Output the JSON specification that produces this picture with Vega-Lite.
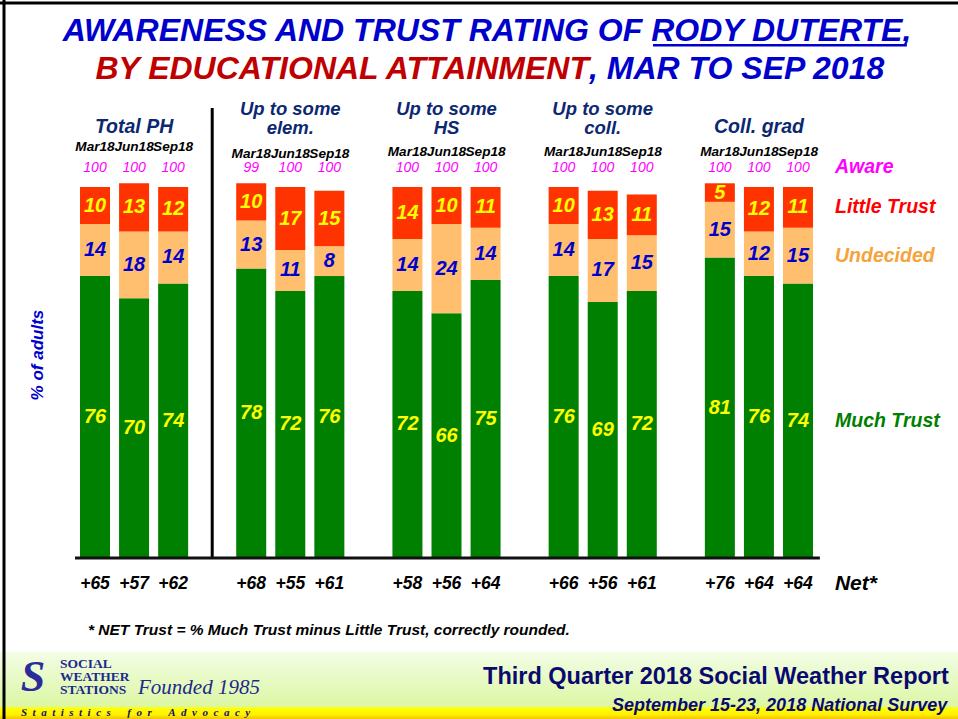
{
  "$schema": "https://vega.github.io/schema/vega-lite/v6.json",
  "width": 958,
  "height": 719,
  "autosize": {"type": "none"},
  "padding": 0,
  "background": "white",
  "config": {"view": {"stroke": null}, "text": {"font": "Liberation Sans"}},
  "data": {
    "values": [
      {"group": "Total PH", "period": "Mar18", "Much Trust": 76, "Undecided": 14, "Little Trust": 10, "aware": 100, "net": 65},
      {"group": "Total PH", "period": "Jun18", "Much Trust": 70, "Undecided": 18, "Little Trust": 13, "aware": 100, "net": 57},
      {"group": "Total PH", "period": "Sep18", "Much Trust": 74, "Undecided": 14, "Little Trust": 12, "aware": 100, "net": 62},
      {"group": "Up to some elem.", "period": "Mar18", "Much Trust": 78, "Undecided": 13, "Little Trust": 10, "aware": 99, "net": 68},
      {"group": "Up to some elem.", "period": "Jun18", "Much Trust": 72, "Undecided": 11, "Little Trust": 17, "aware": 100, "net": 55},
      {"group": "Up to some elem.", "period": "Sep18", "Much Trust": 76, "Undecided": 8, "Little Trust": 15, "aware": 100, "net": 61},
      {"group": "Up to some HS", "period": "Mar18", "Much Trust": 72, "Undecided": 14, "Little Trust": 14, "aware": 100, "net": 58},
      {"group": "Up to some HS", "period": "Jun18", "Much Trust": 66, "Undecided": 24, "Little Trust": 10, "aware": 100, "net": 56},
      {"group": "Up to some HS", "period": "Sep18", "Much Trust": 75, "Undecided": 14, "Little Trust": 11, "aware": 100, "net": 64},
      {"group": "Up to some coll.", "period": "Mar18", "Much Trust": 76, "Undecided": 14, "Little Trust": 10, "aware": 100, "net": 66},
      {"group": "Up to some coll.", "period": "Jun18", "Much Trust": 69, "Undecided": 17, "Little Trust": 13, "aware": 100, "net": 56},
      {"group": "Up to some coll.", "period": "Sep18", "Much Trust": 72, "Undecided": 15, "Little Trust": 11, "aware": 100, "net": 61},
      {"group": "Coll. grad", "period": "Mar18", "Much Trust": 81, "Undecided": 15, "Little Trust": 5, "aware": 100, "net": 76},
      {"group": "Coll. grad", "period": "Jun18", "Much Trust": 76, "Undecided": 12, "Little Trust": 12, "aware": 100, "net": 64},
      {"group": "Coll. grad", "period": "Sep18", "Much Trust": 74, "Undecided": 15, "Little Trust": 11, "aware": 100, "net": 64}
    ]
  },
  "layer": [
    {
      "data": {"values": [{}]},
      "mark": {"type": "rect", "fill": {"gradient": "linear", "x1": 0, "y1": 0, "x2": 0, "y2": 1, "stops": [
        {"offset": 0, "color": "#f3fde6"},
        {"offset": 0.8, "color": "#dcf7a4"},
        {"offset": 0.84, "color": "#ffff00"},
        {"offset": 0.93, "color": "#fff000"},
        {"offset": 1, "color": "#f2c200"}
      ]}},
      "encoding": {
        "y": {"datum": -25.3, "type": "quantitative", "scale": {"domain": [0, 100], "range": [558, 187], "nice": false}, "axis": null},
        "y2": {"datum": -43.5}
      }
    },
    {
      "data": {"values": [{}]},
      "mark": {"type": "rule", "color": "black", "strokeWidth": 3},
      "encoding": {"y": {"datum": 149.6, "type": "quantitative"}}
    },
    {
      "data": {"values": [{}]},
      "mark": {"type": "rule", "color": "black", "strokeWidth": 3, "xOffset": -76},
      "encoding": {"x": {"datum": "Total PH", "type": "nominal", "bandPosition": 0}}
    },
    {
      "data": {"values": [{}]},
      "mark": {"type": "rule", "color": "black", "strokeWidth": 3, "xOffset": -24},
      "encoding": {
        "x": {"datum": "Up to some elem.", "type": "nominal", "bandPosition": 0},
        "y": {"datum": 0, "type": "quantitative"},
        "y2": {"datum": 121.3}
      }
    },
    {
      "transform": [
        {"fold": ["Much Trust", "Undecided", "Little Trust"], "as": ["series", "value"]},
        {"stack": "value", "groupby": ["group", "period"], "as": ["y0", "y1"]}
      ],
      "layer": [
        {
          "mark": {"type": "bar"},
          "encoding": {
            "x": {"field": "group", "type": "nominal", "axis": null,
                  "scale": {"domain": ["Total PH", "Up to some elem.", "Up to some HS", "Up to some coll.", "Coll. grad"], "range": [80, 813], "paddingInner": 0.3077, "paddingOuter": 0}},
            "xOffset": {"field": "period", "type": "nominal",
                        "scale": {"domain": ["Mar18", "Jun18", "Sep18"], "paddingInner": 0.232, "paddingOuter": 0}},
            "y": {"field": "y1", "type": "quantitative"},
            "y2": {"field": "y0"},
            "color": {"field": "series", "type": "nominal", "legend": null,
                      "scale": {"domain": ["Much Trust", "Undecided", "Little Trust"], "range": ["#008000", "#FFBF6E", "#FF3300"]}}
          }
        },
        {
          "transform": [
            {"fold": ["y0", "y1"], "as": ["bound", "pos"]},
            {"aggregate": [{"op": "mean", "field": "pos", "as": "mid"}], "groupby": ["group", "period", "series", "value"]}
          ],
          "layer": [
            {
              "mark": {"type": "text", "fontSize": 20, "fontWeight": "bold", "fontStyle": "italic"},
              "encoding": {
                "x": {"field": "group", "type": "nominal"},
                "xOffset": {"field": "period", "type": "nominal"},
                "y": {"field": "mid", "type": "quantitative"},
                "text": {"field": "value", "type": "quantitative"},
                "color": {"condition": {"test": "datum.series === 'Undecided'", "value": "#0000CC"}, "value": "#FFFF00"}
              }
            },
            {
              "transform": [{"filter": "datum.group === 'Coll. grad' && datum.period === 'Sep18'"}],
              "mark": {"type": "text", "fontSize": 19.5, "fontWeight": "bold", "fontStyle": "italic", "align": "left", "dx": 37},
              "encoding": {
                "x": {"field": "group", "type": "nominal"},
                "xOffset": {"field": "period", "type": "nominal"},
                "y": {"field": "mid", "type": "quantitative"},
                "text": {"field": "series", "type": "nominal"},
                "color": {"condition": [
                  {"test": "datum.series === 'Little Trust'", "value": "#FF0000"},
                  {"test": "datum.series === 'Undecided'", "value": "#F5A33A"}
                ], "value": "#008000"}
              }
            }
          ]
        }
      ]
    },
    {
      "data": {"values": [{}]},
      "mark": {"type": "rule", "color": "#111111", "strokeWidth": 3, "xOffset": -5, "x2Offset": 115},
      "encoding": {
        "x": {"datum": "Total PH", "type": "nominal", "bandPosition": 0},
        "x2": {"datum": "Coll. grad", "bandPosition": 0},
        "y": {"datum": 0, "type": "quantitative"}
      }
    },
    {
      "transform": [{"filter": "datum.group === 'Total PH'"}],
      "mark": {"type": "text", "fontSize": 13.6, "fontWeight": "bold", "fontStyle": "italic", "color": "black"},
      "encoding": {
        "x": {"field": "group", "type": "nominal"},
        "xOffset": {"field": "period", "type": "nominal"},
        "y": {"datum": 110.9, "type": "quantitative"},
        "text": {"field": "period"}
      }
    },
    {
      "transform": [{"filter": "datum.group === 'Up to some elem.'"}],
      "mark": {"type": "text", "fontSize": 13.6, "fontWeight": "bold", "fontStyle": "italic", "color": "black"},
      "encoding": {
        "x": {"field": "group", "type": "nominal"},
        "xOffset": {"field": "period", "type": "nominal"},
        "y": {"datum": 108.9, "type": "quantitative"},
        "text": {"field": "period"}
      }
    },
    {
      "transform": [{"filter": "datum.group !== 'Total PH' && datum.group !== 'Up to some elem.'"}],
      "mark": {"type": "text", "fontSize": 13.6, "fontWeight": "bold", "fontStyle": "italic", "color": "black"},
      "encoding": {
        "x": {"field": "group", "type": "nominal"},
        "xOffset": {"field": "period", "type": "nominal"},
        "y": {"datum": 109.5, "type": "quantitative"},
        "text": {"field": "period"}
      }
    },
    {
      "mark": {"type": "text", "fontSize": 14, "fontStyle": "italic", "color": "#FF00FF"},
      "encoding": {
        "x": {"field": "group", "type": "nominal"},
        "xOffset": {"field": "period", "type": "nominal"},
        "y": {"datum": 105.1, "type": "quantitative"},
        "text": {"field": "aware", "type": "quantitative"}
      }
    },
    {
      "transform": [{"filter": "datum.group === 'Coll. grad' && datum.period === 'Sep18'"}],
      "mark": {"type": "text", "fontSize": 19.5, "fontWeight": "bold", "fontStyle": "italic", "color": "#FF00FF", "align": "left", "dx": 37},
      "encoding": {
        "x": {"field": "group", "type": "nominal"},
        "xOffset": {"field": "period", "type": "nominal"},
        "y": {"datum": 105.3, "type": "quantitative"},
        "text": {"value": "Aware"}
      }
    },
    {
      "mark": {"type": "text", "fontSize": 17.5, "fontWeight": "bold", "fontStyle": "italic", "color": "black"},
      "encoding": {
        "x": {"field": "group", "type": "nominal"},
        "xOffset": {"field": "period", "type": "nominal"},
        "y": {"datum": -7.0, "type": "quantitative"},
        "text": {"field": "net", "type": "quantitative", "format": "+d"}
      }
    },
    {
      "data": {"values": [{}]},
      "mark": {"type": "text", "fontSize": 21, "fontWeight": "bold", "fontStyle": "italic", "color": "black", "align": "left", "xOffset": 76},
      "encoding": {
        "x": {"datum": "Coll. grad", "type": "nominal"},
        "y": {"datum": -7.0, "type": "quantitative"},
        "text": {"value": "Net*"}
      }
    },
    {
      "data": {"values": [{"group": "Total PH", "label": "Total PH"}, {"group": "Coll. grad", "label": "Coll. grad"}]},
      "mark": {"type": "text", "fontSize": 19.5, "fontWeight": "bold", "fontStyle": "italic", "color": "#0b2870"},
      "encoding": {
        "x": {"field": "group", "type": "nominal"},
        "y": {"datum": 116.3, "type": "quantitative"},
        "text": {"field": "label"}
      }
    },
    {
      "data": {"values": [{"group": "Up to some elem.", "label": "Up to some\nelem."}, {"group": "Up to some HS", "label": "Up to some\nHS"}, {"group": "Up to some coll.", "label": "Up to some\ncoll."}]},
      "mark": {"type": "text", "fontSize": 18.5, "fontWeight": "bold", "fontStyle": "italic", "color": "#0b2870", "lineBreak": "\n", "lineHeight": 18.8},
      "encoding": {
        "x": {"field": "group", "type": "nominal"},
        "y": {"datum": 121.1, "type": "quantitative"},
        "text": {"field": "label"}
      }
    },
    {
      "data": {"values": [{}]},
      "mark": {"type": "text", "fontSize": 32, "fontWeight": "bold", "fontStyle": "italic", "color": "#0000CC", "xOffset": 40.5},
      "encoding": {
        "x": {"datum": "Up to some HS", "type": "nominal"},
        "y": {"datum": 142.1, "type": "quantitative"},
        "text": {"value": "AWARENESS AND TRUST RATING OF RODY DUTERTE,"}
      }
    },
    {
      "data": {"values": [{}]},
      "mark": {"type": "rule", "color": "#0000CC", "strokeWidth": 2.5, "xOffset": 104.4, "x2Offset": 202},
      "encoding": {
        "x": {"datum": "Up to some coll.", "type": "nominal", "bandPosition": 0},
        "x2": {"datum": "Coll. grad", "bandPosition": 0},
        "y": {"datum": 138.2, "type": "quantitative"}
      }
    },
    {
      "data": {"values": [{}]},
      "mark": {"type": "text", "fontSize": 32, "fontWeight": "bold", "fontStyle": "italic", "color": "#C00000", "align": "right", "xOffset": -13.7},
      "encoding": {
        "x": {"datum": "Up to some coll.", "type": "nominal"},
        "y": {"datum": 131.8, "type": "quantitative"},
        "text": {"value": "BY EDUCATIONAL ATTAINMENT"}
      }
    },
    {
      "data": {"values": [{}]},
      "mark": {"type": "text", "fontSize": 32, "fontWeight": "bold", "fontStyle": "italic", "color": "#0000CC", "align": "left", "xOffset": -13.7},
      "encoding": {
        "x": {"datum": "Up to some coll.", "type": "nominal"},
        "y": {"datum": 131.8, "type": "quantitative"},
        "text": {"value": ", MAR TO SEP 2018"}
      }
    },
    {
      "data": {"values": [{}]},
      "mark": {"type": "text", "fontSize": 17, "fontWeight": "bold", "fontStyle": "italic", "color": "#0000CC", "angle": 270, "xOffset": -42},
      "encoding": {
        "x": {"datum": "Total PH", "type": "nominal", "bandPosition": 0},
        "y": {"datum": 54.7, "type": "quantitative"},
        "text": {"value": "% of adults"}
      }
    },
    {
      "data": {"values": [{}]},
      "mark": {"type": "text", "fontSize": 15.5, "fontWeight": "bold", "fontStyle": "italic", "color": "black", "align": "left", "xOffset": 8},
      "encoding": {
        "x": {"datum": "Total PH", "type": "nominal", "bandPosition": 0},
        "y": {"datum": -19.4, "type": "quantitative"},
        "text": {"value": "* NET Trust = % Much Trust minus Little Trust, correctly rounded."}
      }
    },
    {
      "data": {"values": [{}]},
      "mark": {"type": "text", "fontSize": 23.5, "fontWeight": "bold", "color": "#0a0a6e", "align": "left", "xOffset": 90.6},
      "encoding": {
        "x": {"datum": "Up to some HS", "type": "nominal", "bandPosition": 0},
        "y": {"datum": -32.1, "type": "quantitative"},
        "text": {"value": "Third Quarter 2018 Social Weather Report"}
      }
    },
    {
      "data": {"values": [{}]},
      "mark": {"type": "text", "fontSize": 18, "fontWeight": "bold", "fontStyle": "italic", "color": "#0a0a6e", "align": "left", "xOffset": 63.4},
      "encoding": {
        "x": {"datum": "Up to some coll.", "type": "nominal", "bandPosition": 0},
        "y": {"datum": -39.9, "type": "quantitative"},
        "text": {"value": "September 15-23, 2018 National Survey"}
      }
    },
    {
      "data": {"values": [{}]},
      "mark": {"type": "text", "font": "Liberation Serif", "fontSize": 44, "fontWeight": "bold", "fontStyle": "italic", "color": "#2b2b99", "xOffset": -47},
      "encoding": {
        "x": {"datum": "Total PH", "type": "nominal", "bandPosition": 0},
        "y": {"datum": -32.3, "type": "quantitative"},
        "text": {"value": "S"}
      }
    },
    {
      "data": {"values": [{}]},
      "mark": {"type": "text", "font": "Liberation Serif", "fontSize": 13.5, "fontWeight": "bold", "color": "#1a2a8c", "align": "left", "lineBreak": "\n", "lineHeight": 13, "xOffset": -20},
      "encoding": {
        "x": {"datum": "Total PH", "type": "nominal", "bandPosition": 0},
        "y": {"datum": -28.6, "type": "quantitative"},
        "text": {"value": "SOCIAL\nWEATHER\nSTATIONS"}
      }
    },
    {
      "data": {"values": [{}]},
      "mark": {"type": "text", "font": "Liberation Serif", "fontSize": 21, "fontStyle": "italic", "color": "#1c2a8c", "xOffset": 119},
      "encoding": {
        "x": {"datum": "Total PH", "type": "nominal", "bandPosition": 0},
        "y": {"datum": -35.0, "type": "quantitative"},
        "text": {"value": "Founded 1985"}
      }
    },
    {
      "data": {"values": [{}]},
      "mark": {"type": "text", "font": "Liberation Serif", "fontSize": 11, "fontWeight": "bold", "fontStyle": "italic", "color": "#101070", "align": "left", "xOffset": -59},
      "encoding": {
        "x": {"datum": "Total PH", "type": "nominal", "bandPosition": 0},
        "y": {"datum": -41.8, "type": "quantitative"},
        "text": {"value": "S\u2002t\u2002a\u2002t\u2002i\u2002s\u2002t\u2002i\u2002c\u2002s\u2002\u2002\u2002f\u2002o\u2002r\u2002\u2002\u2002A\u2002d\u2002v\u2002o\u2002c\u2002a\u2002c\u2002y"}
      }
    }
  ]
}
